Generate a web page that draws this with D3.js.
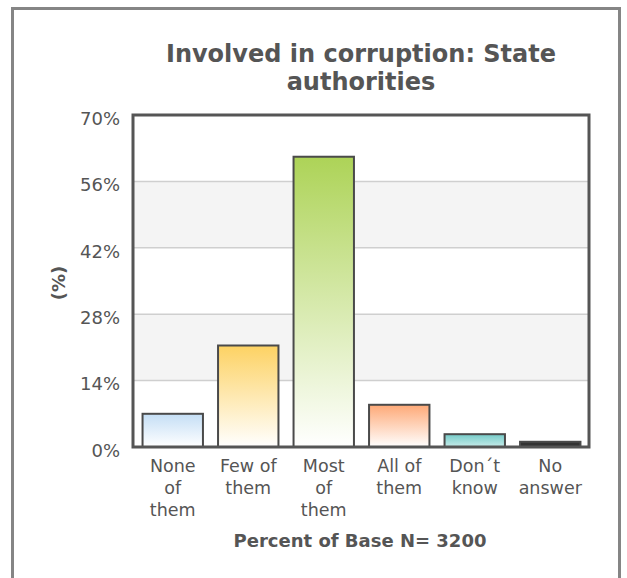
<!DOCTYPE html>
<html>
<head>
<meta charset="utf-8">
<script src="https://cdn.jsdelivr.net/npm/d3@7"></script>
<style>
  body { margin: 0; background: #fff; }
  svg { display: block; font-family: "DejaVu Sans", Verdana, sans-serif; }
</style>
</head>
<body>
<div id="chart"></div>
<script>
  // data
  const categories = ["None of them", "Few of them", "Most of them", "All of them", "Don\u00b4t know", "No answer"];
  const labelLines = [["None", "of", "them"], ["Few of", "them"], ["Most", "of", "them"], ["All of", "them"], ["Don\u00b4t", "know"], ["No", "answer"]];
  const values = [7.0, 21.4, 61.2, 8.9, 2.7, 1.1];
  const tickValues = [0, 14, 28, 42, 56, 70];
  const topColors = ["#c4def5", "#fdd263", "#add357", "#fea977", "#74cbc8", "#333333"];
  const bottomColors = ["#ffffff", "#ffffff", "#ffffff", "#ffffff", "#c8ecea", "#333333"];

  const w = 627, h = 578;
  const plotLeft = 133, plotRight = 589, plotTop = 115, plotBottom = 447;

  const svg = d3.select("#chart").append("svg")
      .attr("width", w)
      .attr("height", h);

  //outer frame
  svg.append("rect")
      .attr("x", 12.5).attr("y", 8.5)
      .attr("width", 607).attr("height", 600)
      .attr("fill", "#fff")
      .attr("stroke", "#858585")
      .attr("stroke-width", 3);

  const x = d3.scaleBand()
      .domain(categories)
      .range([plotLeft + 2, plotRight - 1])
      .paddingInner(0.2)
      .paddingOuter(0.1);

  const y = d3.scaleLinear()
      .domain([0, 70])
      .range([plotBottom, plotTop]);

  //alternate bands
  for (let i = 0; i < tickValues.length - 1; i++) {
    if (i % 2 == 1) {
      svg.append("rect")
          .attr("x", plotLeft).attr("y", y(tickValues[i + 1]))
          .attr("width", plotRight - plotLeft)
          .attr("height", y(tickValues[i]) - y(tickValues[i + 1]))
          .attr("fill", "#f4f4f4");
    }
  }

  //grid lines
  svg.selectAll(".grid")
    .data(tickValues.slice(1, -1))
    .enter()
    .append("line")
      .attr("x1", plotLeft).attr("x2", plotRight)
      .attr("y1", d => y(d)).attr("y2", d => y(d))
      .attr("stroke", "#cfcfcf")
      .attr("stroke-width", 1.5);

  //gradients
  const defs = svg.append("defs");
  categories.forEach((c, i) => {
    const g = defs.append("linearGradient")
        .attr("id", "grad" + i)
        .attr("x1", 0).attr("y1", 0).attr("x2", 0).attr("y2", 1);
    g.append("stop").attr("offset", "0%").attr("stop-color", topColors[i]);
    g.append("stop").attr("offset", "100%").attr("stop-color", bottomColors[i]);
  });

  //bars
  svg.selectAll(".bar")
    .data(values)
    .enter()
    .append("rect")
      .attr("x", (d, i) => x(categories[i]))
      .attr("y", d => y(d))
      .attr("width", x.bandwidth())
      .attr("height", d => plotBottom - y(d))
      .attr("fill", (d, i) => "url(#grad" + i + ")")
      .attr("stroke", "#4a4a4a")
      .attr("stroke-width", 2);

  //plot border
  svg.append("rect")
      .attr("x", plotLeft).attr("y", plotTop)
      .attr("width", plotRight - plotLeft).attr("height", plotBottom - plotTop)
      .attr("fill", "none")
      .attr("stroke", "#555")
      .attr("stroke-width", 3);

  //y axis
  const yAxis = svg.append("g")
      .attr("transform", "translate(" + (plotLeft - 10) + ",0)")
      .call(d3.axisLeft(y).tickValues(tickValues).tickSize(0).tickFormat(d => d + "%"));
  yAxis.select(".domain").remove();
  yAxis.selectAll("text")
      .attr("font-size", 18)
      .attr("font-family", "DejaVu Sans, Verdana, sans-serif")
      .attr("fill", "#555")
      .attr("dy", "0.52em");

  //x labels
  const xl = svg.append("g");
  labelLines.forEach((lines, i) => {
    const t = xl.append("text")
        .attr("x", x(categories[i]) + x.bandwidth() / 2)
        .attr("y", 472)
        .attr("text-anchor", "middle")
        .attr("font-size", 17.5)
        .attr("fill", "#555");
    lines.forEach((l, j) => {
      t.append("tspan")
          .attr("x", x(categories[i]) + x.bandwidth() / 2)
          .attr("dy", j == 0 ? 0 : 22)
          .text(l);
    });
  });

  //titles
  svg.append("text")
      .attr("x", 361).attr("y", 62)
      .attr("text-anchor", "middle")
      .attr("font-size", 24).attr("font-weight", "bold")
      .attr("fill", "#555")
      .text("Involved in corruption: State");
  svg.append("text")
      .attr("x", 361).attr("y", 90)
      .attr("text-anchor", "middle")
      .attr("font-size", 24).attr("font-weight", "bold")
      .attr("fill", "#555")
      .text("authorities");

  svg.append("text")
      .attr("transform", "translate(65,283) rotate(-90)")
      .attr("text-anchor", "middle")
      .attr("font-size", 18).attr("font-weight", "bold")
      .attr("fill", "#555")
      .text("(%)");

  svg.append("text")
      .attr("x", 360).attr("y", 547)
      .attr("text-anchor", "middle")
      .attr("font-size", 18).attr("font-weight", "bold")
      .attr("fill", "#555")
      .text("Percent of Base N= 3200");
</script>
</body>
</html>
